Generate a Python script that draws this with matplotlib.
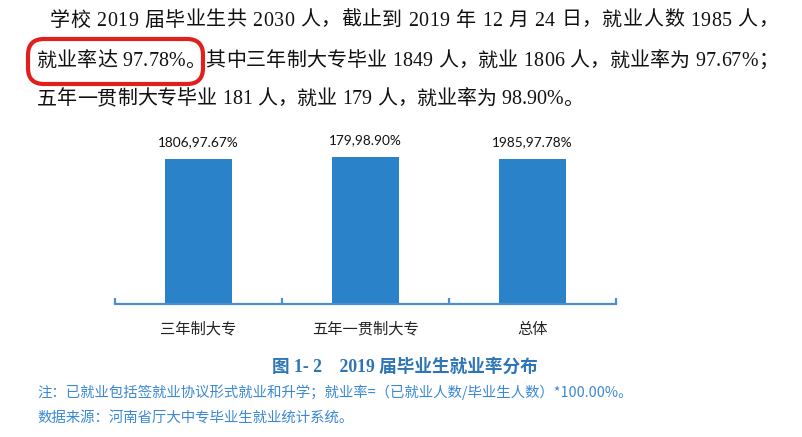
import matplotlib
matplotlib.use("Agg")
import matplotlib.pyplot as plt
from matplotlib.patches import FancyBboxPatch
from matplotlib.transforms import IdentityTransform
from matplotlib.font_manager import findfont, FontProperties
from matplotlib.ft2font import FT2Font

# data
categories = ["三年制大专", "五年一贯制大专", "总体"]
employed = [1806, 179, 1985]
rates = [97.67, 98.90, 97.78]

para_lines = [
    "学校 2019 届毕业生共 2030 人，截止到 2019 年 12 月 24 日，就业人数 1985 人，",
    "就业率达 97.78%。其中三年制大专毕业 1849 人，就业 1806 人，就业率为 97.67%；",
    "五年一贯制大专毕业 181 人，就业 179 人，就业率为 98.90%。",
]
caption = "图 1- 2    2019 届毕业生就业率分布"
notes = [
    "注：已就业包括签就业协议形式就业和升学；就业率=（已就业人数/毕业生人数）*100.00%。",
    "数据来源：河南省厅大中专毕业生就业统计系统。",
]

W, H = 803, 437
fig = plt.figure(figsize=(W / 100, H / 100), dpi=100)

serif = ["Liberation Serif", "Noto Sans CJK SC"]
sans = ["Noto Sans CJK SC", "DejaVu Sans"]

def fx(x):
    return x / W

def fy(y):
    return 1 - y / H

# paragraph, justified char by char like the word document
PSIZE = 14.4
latin = FT2Font(findfont(FontProperties(family="Liberation Serif")))
cjk = FT2Font(findfont(FontProperties(family="Noto Sans CJK SC")))
latin.set_size(PSIZE, 100)
cjk.set_size(PSIZE, 100)

def advance(c):
    f = latin if latin.get_char_index(ord(c)) else cjk
    return f.load_char(ord(c)).linearHoriAdvance / 65536

para_x = [50, 37, 37]
para_y = [21, 62, 100]
para_right = [778, 778, None]
for txt, x0, y, xr in zip(para_lines, para_x, para_y, para_right):
    advs = [advance(c) for c in txt]
    extra = 0 if xr is None else (xr - x0 - sum(advs)) / (len(txt) - 1)
    x = x0
    for c, a in zip(txt, advs):
        if c != " ":
            fig.text(fx(x), fy(y), c, family=serif, fontsize=PSIZE, color="#111111",
                     ha="left", va="center")
        x += a + extra

# red highlight box
box = FancyBboxPatch((28, H - 84), 175, 45, boxstyle="round,pad=0,rounding_size=16",
                     transform=IdentityTransform(), fill=False, edgecolor="#e0201c",
                     linewidth=3)
fig.patches.append(box)

# bar chart
ax = fig.add_axes([fx(115), fy(304), (616 - 115) / W, 163 / H])
x = range(len(categories))
bars = ax.bar(x, rates, width=0.4, color="#2a82c8")
ax.set_xlim(-0.5, len(categories) - 0.5)
ax.set_ylim(0, 110)
for b, n, r in zip(bars, employed, rates):
    ax.annotate(f"{n},{r:.2f}%", (b.get_x() + b.get_width() / 2, b.get_height()),
                xytext=(0, 11), textcoords="offset pixels", ha="center", va="bottom",
                family=["Lato", "DejaVu Sans"], fontsize=9.8, color="#111111")

for s in ["top", "left", "right"]:
    ax.spines[s].set_visible(False)
ax.spines["bottom"].set_color("#4a8fd0")
ax.spines["bottom"].set_linewidth(1.6)
ax.set_yticks([])
ax.set_xticks([i - 0.5 for i in range(len(categories) + 1)])
ax.set_xticklabels([])
ax.tick_params(axis="x", which="major", direction="in", length=4, width=1.6, color="#4a8fd0")
ax.set_xticks(list(x), minor=True)
ax.set_xticklabels(categories, minor=True, family=sans, fontsize=11, color="#222222")
ax.tick_params(axis="x", which="minor", length=0, pad=12)

# caption and notes
fig.text(fx(405), fy(367), caption, family=serif, fontsize=12.7, fontweight="bold",
         color="#2e75b6", ha="center", va="center")
for txt, y in zip(notes, [392, 418]):
    fig.text(fx(37), fy(y), txt, family=sans, fontsize=10.4, color="#3b88d4",
             ha="left", va="center")

fig.savefig("out.png", dpi=100)
